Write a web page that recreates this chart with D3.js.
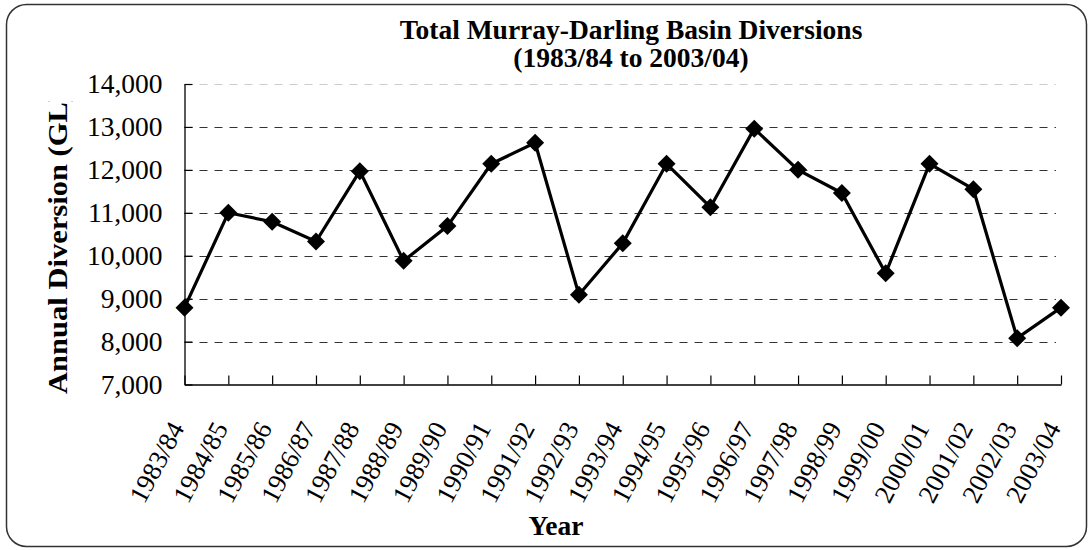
<!DOCTYPE html>
<html>
<head>
<meta charset="utf-8">
<script src="https://cdn.jsdelivr.net/npm/d3@7"></script>
<style>
  body { margin: 0; background: #fff; }
  svg { display: block; font-family: "Liberation Serif", "Times New Roman", serif; }
</style>
</head>
<body>
<svg id="chart" width="1088" height="550"></svg>
<script>
// data
var years = ["1983/84", "1984/85", "1985/86", "1986/87", "1987/88", "1988/89", "1989/90",
  "1990/91", "1991/92", "1992/93", "1993/94", "1994/95", "1995/96", "1996/97", "1997/98",
  "1998/99", "1999/00", "2000/01", "2001/02", "2002/03", "2003/04"];
var diversions = [8790, 11000, 10790, 10330, 11970, 9880, 10690, 12140, 12630, 9090, 10290,
  12140, 11130, 12960, 12000, 11460, 9590, 12140, 11550, 8080, 8790];
var yTicks = [7000, 8000, 9000, 10000, 11000, 12000, 13000, 14000];
var titleLines = ["Total Murray-Darling Basin Diversions", "(1983/84 to 2003/04)"];

var svg = d3.select("#chart");

// outer rounded frame
svg.append("rect")
  .attr("x", 6.5).attr("y", 4.5)
  .attr("width", 1080).attr("height", 542)
  .attr("rx", 20).attr("ry", 20)
  .attr("fill", "#fff")
  .attr("stroke", "#333")
  .attr("stroke-width", 1.5);

var x = d3.scalePoint().domain(years).range([184.5, 1061]);
var y = d3.scaleLinear().domain([7000, 14000]).range([384.5, 84]);

// gridlines
svg.append("g").selectAll("line")
  .data(yTicks.filter(function (d) { return d > 7000; }))
  .enter().append("line")
  .attr("x1", 184.5).attr("x2", 1056)
  .attr("y1", function (d) { return Math.round(y(d)) + 0.5; })
  .attr("y2", function (d) { return Math.round(y(d)) + 0.5; })
  .attr("stroke", function (d) { return d === 14000 ? "#ccc" : "#333"; })
  .attr("stroke-width", 1.2)
  .attr("stroke-dasharray", "8,7");

// y axis
var yAxis = svg.append("g")
  .attr("transform", "translate(184.5,0)")
  .call(d3.axisLeft(y).tickValues(yTicks).tickSizeInner(-8).tickSizeOuter(0)
    .tickPadding(22).tickFormat(d3.format(",")));
yAxis.select(".domain").attr("stroke", "#000").attr("stroke-width", 1.3);
yAxis.selectAll(".tick line").attr("stroke", "#000").attr("stroke-width", 1.2);
yAxis.selectAll(".tick text")
  .attr("font-family", "Liberation Serif, Times New Roman, serif")
  .attr("font-size", 27.5).attr("fill", "#000");

// x axis
var xAxis = svg.append("g")
  .attr("transform", "translate(0,384.5)")
  .call(d3.axisBottom(x).tickSizeInner(-9).tickSizeOuter(0).tickFormat(""));
xAxis.select(".domain").attr("stroke", "#000").attr("stroke-width", 1.3);
xAxis.selectAll(".tick line").attr("stroke", "#000").attr("stroke-width", 1.2);

// slanted category labels
svg.append("g").selectAll("text")
  .data(years)
  .enter().append("text")
  .attr("transform", function (d) { return "translate(" + (x(d) + 0.5) + ",428) rotate(-62)"; })
  .attr("text-anchor", "end")
  .attr("font-size", 26.5)
  .attr("fill", "#000")
  .text(function (d) { return d; });

// series line
var line = d3.line()
  .x(function (d, i) { return x(years[i]); })
  .y(function (d) { return y(d); });

svg.append("path")
  .datum(diversions)
  .attr("d", line)
  .attr("fill", "none")
  .attr("stroke", "#000")
  .attr("stroke-width", 3.2)
  .attr("stroke-linejoin", "miter");

// diamond markers
svg.append("g").selectAll("path")
  .data(diversions)
  .enter().append("path")
  .attr("d", d3.symbol().type(d3.symbolSquare).size(162))
  .attr("transform", function (d, i) { return "translate(" + x(years[i]) + "," + y(d) + ") rotate(45)"; })
  .attr("fill", "#000");

// title
svg.append("g").selectAll("text")
  .data(titleLines)
  .enter().append("text")
  .attr("x", 631)
  .attr("y", function (d, i) { return 39 + i * 28; })
  .attr("text-anchor", "middle")
  .attr("font-size", 27.5)
  .attr("font-weight", "bold")
  .attr("fill", "#000")
  .text(function (d) { return d; });

// y axis title (top of it is cut off in the original)
svg.append("clipPath").attr("id", "ytclip")
  .append("rect").attr("x", 0).attr("y", 101).attr("width", 120).attr("height", 400);

svg.append("g")
  .attr("clip-path", "url(#ytclip)")
  .append("text")
  .attr("transform", "translate(67,394) rotate(-90)")
  .attr("font-size", 27.5)
  .attr("font-weight", "bold")
  .attr("fill", "#000")
  .attr("textLength", 302)
  .attr("lengthAdjust", "spacingAndGlyphs")
  .text("Annual Diversion (GL)");

// x axis title
svg.append("text")
  .attr("x", 556).attr("y", 535)
  .attr("text-anchor", "middle")
  .attr("font-size", 27.5)
  .attr("font-weight", "bold")
  .attr("fill", "#000")
  .text("Year");
</script>
</body>
</html>
